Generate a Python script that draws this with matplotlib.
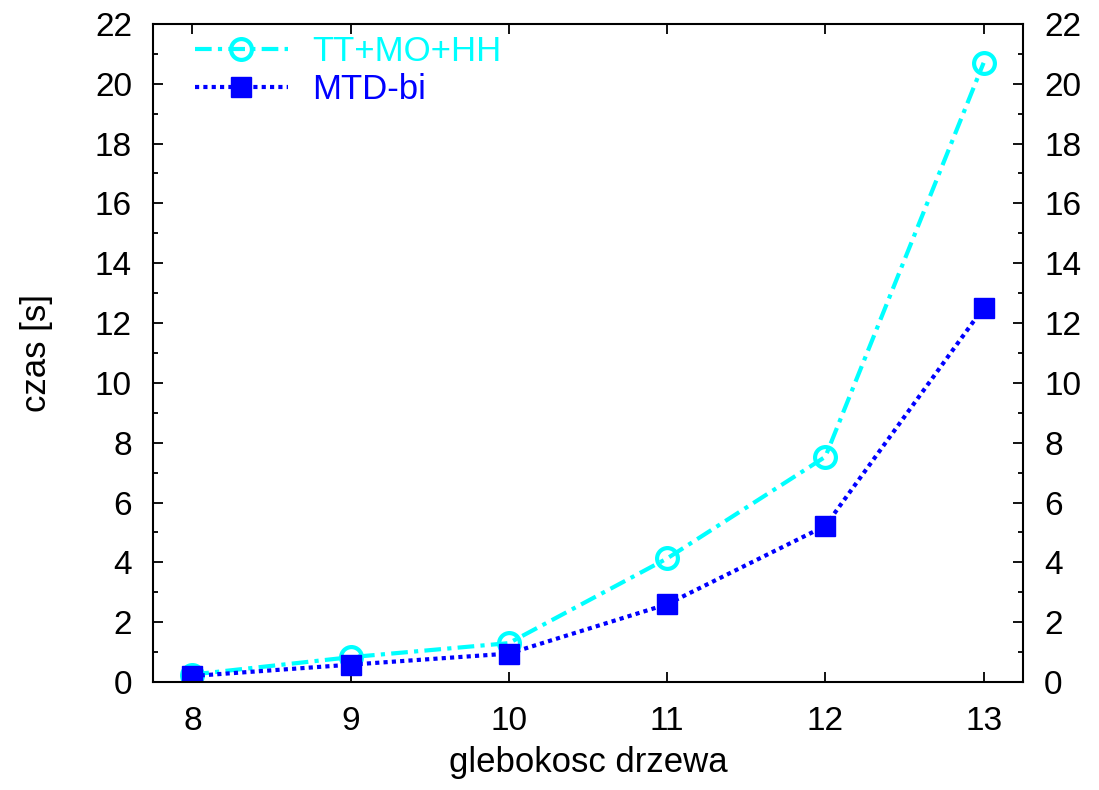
import matplotlib
matplotlib.use("Agg")
import matplotlib.pyplot as plt
from matplotlib.ticker import MultipleLocator

depth = [8, 9, 10, 11, 12, 13]
tt_mo_hh = [0.25, 0.83, 1.3, 4.13, 7.53, 20.7]
mtd_bi = [0.2, 0.58, 0.95, 2.6, 5.22, 12.52]

plt.rcParams["font.family"] = ["Liberation Sans", "DejaVu Sans"]

fig = plt.figure(figsize=(10.99, 7.9), dpi=100)
ax = fig.add_axes([0.139, 0.1367, 0.792, 0.833])

ax.plot(depth, tt_mo_hh, color="cyan", ls=(0, (4, 1.5, 1, 1.5)), lw=3,
        marker="o", ms=15, mfc="none", mec="cyan", mew=3, label="TT+MO+HH")
ax.plot(depth, mtd_bi, color="blue", ls=(0, (1, 1)), lw=3,
        marker="s", ms=15, mfc="blue", mec="blue", label="MTD-bi")

ax.set_xlim(7.75, 13.25)
ax.set_ylim(0, 22)
ax.set_xticks(depth)
ax.yaxis.set_major_locator(MultipleLocator(2))
ax.yaxis.set_minor_locator(MultipleLocator(1))
ax.tick_params(axis="both", which="both", direction="in", labelsize=24,
               top=True, right=True, labelright=True, width=1.3)
ax.tick_params(which="major", length=7)
ax.tick_params(which="minor", length=3.5)
ax.tick_params(axis="y", which="major", pad=15)
ax.tick_params(axis="x", which="major", pad=17)
for s in ax.spines.values():
    s.set_linewidth(1.5)

ax.set_xlabel("glebokosc drzewa", fontsize=25, labelpad=7)
ax.set_ylabel("czas [s]", fontsize=25, labelpad=30)

leg = ax.legend(loc="upper left", frameon=False, fontsize=25, handlelength=2.7,
                handletextpad=0.7, borderaxespad=0.0, borderpad=0.2,
                labelspacing=0.14, bbox_to_anchor=(0.04, 0.993))
for txt, c in zip(leg.get_texts(), ["cyan", "blue"]):
    txt.set_color(c)

fig.savefig("out.png", dpi=100)
